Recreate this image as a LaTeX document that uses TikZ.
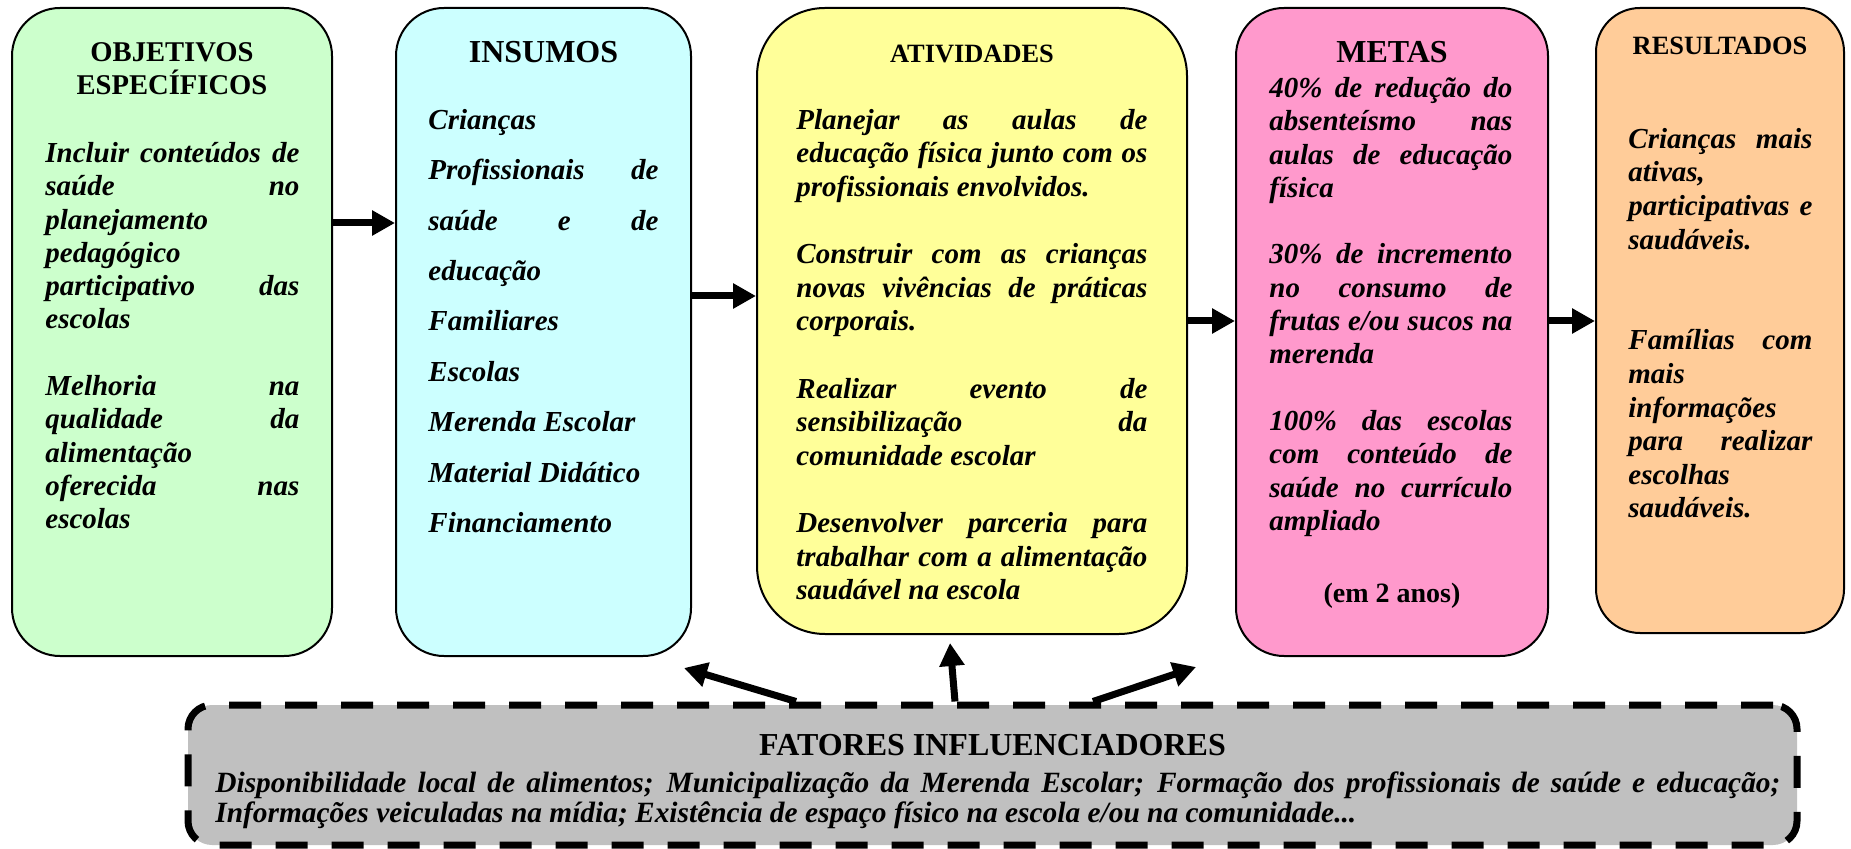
\documentclass[tikz,border=0pt]{standalone}
\usepackage{fontspec}
\setmainfont{Liberation Serif}
\usetikzlibrary{arrows.meta}
\definecolor{cgreen}{HTML}{CCFFCC}
\definecolor{ccyan}{HTML}{CCFFFF}
\definecolor{cyellow}{HTML}{FFFF99}
\definecolor{cpink}{HTML}{FF99CC}
\definecolor{corange}{HTML}{FFCC99}
\definecolor{cgray}{HTML}{C0C0C0}
\newcommand\jline[1]{\makebox[\linewidth][s]{#1}\par}
\newcommand\lline[1]{\makebox[\linewidth][l]{#1}\par}
\newcommand\bline{\mbox{}\par}
\newcommand\blk[4][14.5]{\parbox[t]{#2}{\fontsize{#1}{#3}\selectfont\bfseries\itshape #4}}
\begin{document}
\begin{tikzpicture}[x=0.5pt,y=-0.5pt,
  box/.style={draw=black, line width=1pt, inner sep=0pt},
  ttl/.style={anchor=base, inner sep=0pt},
  body/.style={anchor=base west, inner sep=0pt},
  arr/.style={line width=3.5pt, -{Triangle[length=11.5pt,width=12pt]}},
]
\useasboundingbox (0,0) rectangle (1851,849);
% boxes
\node[box, fill=cgreen, rounded corners=24pt, minimum width=160pt, minimum height=324pt] (obj) at (172,332) {};
\node[box, fill=ccyan, rounded corners=24pt, minimum width=147.5pt, minimum height=324pt] (ins) at (543.5,332) {};
\node[box, fill=cyellow, rounded corners=34pt, minimum width=215pt, minimum height=313pt] (act) at (972,321) {};
\node[box, fill=cpink, rounded corners=24pt, minimum width=156pt, minimum height=324pt] (met) at (1392,332) {};
\node[box, fill=corange, rounded corners=22pt, minimum width=124pt, minimum height=312.5pt] (res) at (1720,320.5) {};
% arrows between boxes
\coordinate (y1) at (0,223);
\coordinate (y2) at (0,296);
\coordinate (y3) at (0,321);
\draw[arr] (obj.east |- y1) -- (ins.west |- y1);
\draw[arr] (ins.east |- y2) -- (act.west |- y2);
\draw[arr] (act.east |- y3) -- (met.west |- y3);
\draw[arr] (met.east |- y3) -- (res.west |- y3);
% bottom box
\node[box, fill=cgray, line width=3.5pt, dash pattern=on 16pt off 12pt, rounded corners=12pt, minimum width=804.5pt, minimum height=70pt] (fat) at (992.5,775) {};
\coordinate (ta) at (796,705);
\coordinate (tb) at (955,705);
\coordinate (tc) at (1093,705);
\coordinate (ha) at (684,668);
\coordinate (hb) at (950,643);
\coordinate (hc) at (1196,667);
\draw[arr] (fat.north -| ta) -- (ha);
\draw[arr] (fat.north -| tb) -- (hb);
\draw[arr] (fat.north -| tc) -- (hc);
% titles
\node[ttl] (objT) at (172,61.5) {\parbox[t]{160pt}{\centering\fontsize{14.3}{16.5}\selectfont\bfseries OBJETIVOS\\ESPECÍFICOS}};
\node[ttl, font=\fontsize{16}{19}\selectfont\bfseries] (insT) at (543.5,62.5) {INSUMOS};
\node[ttl, font=\fontsize{13.2}{16}\selectfont\bfseries] (actT) at (972,63) {ATIVIDADES};
\node[ttl, font=\fontsize{16}{19}\selectfont\bfseries] (metT) at (1392,62.5) {METAS};
\node[ttl, font=\fontsize{13.2}{16}\selectfont\bfseries] (resT) at (1720,54.7) {RESULTADOS};
\node[ttl, font=\fontsize{14}{17}\selectfont\bfseries] (metN) at (1392,602) {(em 2 anos)};
\node[ttl, font=\fontsize{16}{19}\selectfont\bfseries] (fatT) at (992.5,755.6) {FATORES INFLUENCIADORES};
% bodies
\node[body] (objB) at (45,162.5) {\blk{127pt}{16.65pt}{%
\jline{Incluir conteúdos de}
\jline{saúde no}
\lline{planejamento}
\lline{pedagógico}
\jline{participativo das}
\lline{escolas}
\bline
\jline{Melhoria na}
\jline{qualidade da}
\lline{alimentação}
\jline{oferecida nas}
\lline{escolas}}};
\node[body] (insB) at (428,129.4) {\blk{115pt}{25.2pt}{%
\lline{Crianças}
\jline{Profissionais de}
\jline{saúde e de}
\lline{educação}
\lline{Familiares}
\lline{Escolas}
\lline{Merenda Escolar}
\lline{Material Didático}
\lline{Financiamento}}};
\node[body] (actB) at (796,129.4) {\blk{175.5pt}{16.8pt}{%
\jline{Planejar as aulas de}
\jline{educação física junto com os}
\lline{profissionais envolvidos.}
\bline
\jline{Construir com as crianças}
\jline{novas vivências de práticas}
\lline{corporais.}
\bline
\jline{Realizar evento de}
\jline{sensibilização da}
\lline{comunidade escolar}
\bline
\jline{Desenvolver parceria para}
\jline{trabalhar com a alimentação}
\lline{saudável na escola}}};
\node[body] (metB) at (1269,97.5) {\blk{121.5pt}{16.65pt}{%
\jline{40\% de redução do}
\jline{absenteísmo nas}
\jline{aulas de educação}
\lline{física}
\bline
\jline{30\% de incremento}
\jline{no consumo de}
\jline{frutas e/ou sucos na}
\lline{merenda}
\bline
\jline{100\% das escolas}
\jline{com conteúdo de}
\jline{saúde no currículo}
\lline{ampliado}}};
\node[body] (resB) at (1628,148.3) {\blk{92pt}{16.8pt}{%
\jline{Crianças mais}
\lline{ativas,}
\jline{participativas e}
\lline{saudáveis.}
\bline
\bline
\jline{Famílias com}
\lline{mais}
\lline{informações}
\jline{para realizar}
\lline{escolhas}
\lline{saudáveis.}}};
\node[body] (fatB) at (215,792) {\blk[14.7]{782.5pt}{15pt}{%
\jline{Disponibilidade local de alimentos; Municipalização da Merenda Escolar; Formação dos profissionais de saúde e educação;}
\lline{Informações veiculadas na mídia; Existência de espaço físico na escola e/ou na comunidade...}}};
\end{tikzpicture}
\end{document}
